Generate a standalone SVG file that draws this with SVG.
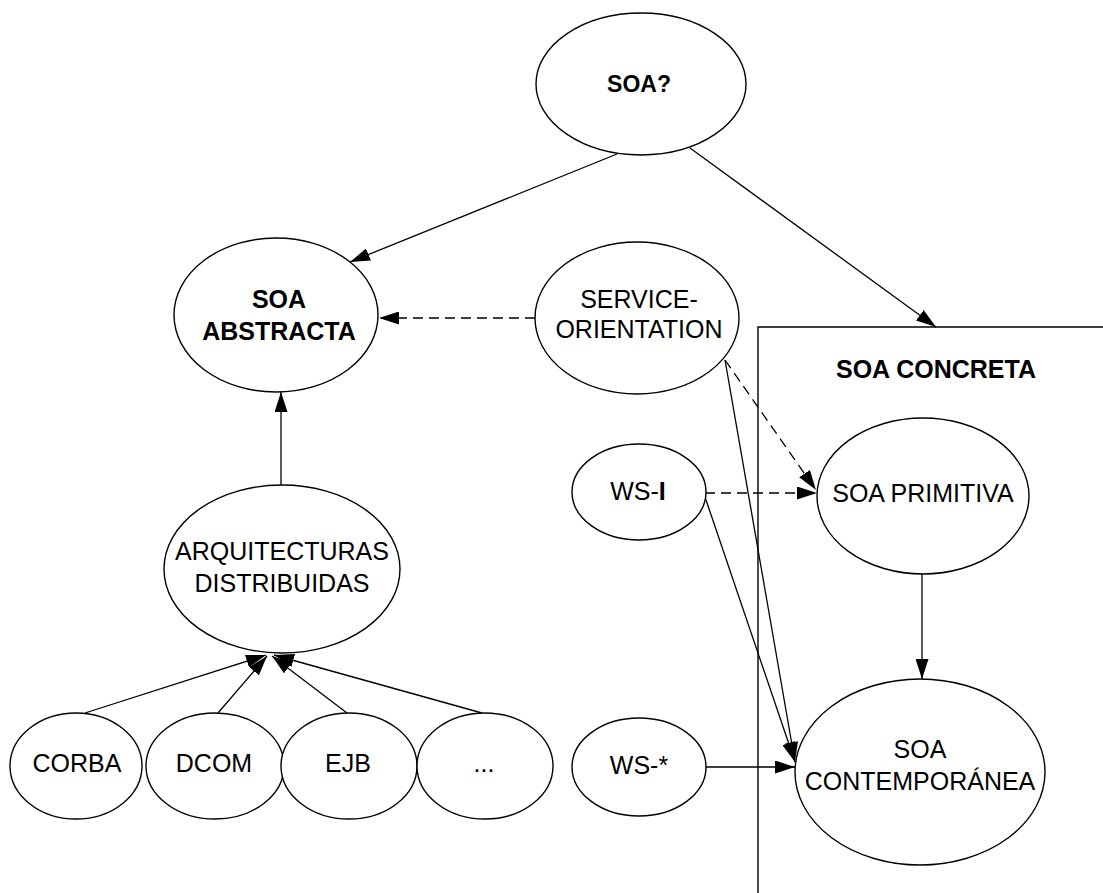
<svg xmlns="http://www.w3.org/2000/svg" width="1103" height="893" viewBox="0 0 1103 893">
  <style>
    .node ellipse { fill: #fff; stroke: #000; stroke-width: 1.4; }
    .lbl { font-family: "Liberation Sans", Arial, sans-serif; font-size: 25px; fill: #000; text-anchor: middle; }
    .b { font-weight: bold; }
    .edge { stroke: #000; stroke-width: 1.3; fill: none; marker-end: url(#arrow); }
    .dash { stroke-dasharray: 10 6; }
    .frame { stroke: #000; stroke-width: 1.4; fill: none; }
  </style>
  <defs>
    <marker id="arrow" viewBox="0 0 20 13" refX="20" refY="6.5" markerWidth="20" markerHeight="13" markerUnits="userSpaceOnUse" orient="auto">
      <path d="M0,0 L20,6.5 L0,13 Z" fill="#000"/>
    </marker>
  </defs>
  <rect width="1103" height="893" fill="#fff"/>

  <!-- SOA CONCRETA container (open to the right and bottom) -->
  <g id="soa-concreta">
    <path class="frame" d="M758,893 L758,327 L1103,327"/>
    <text class="lbl b" x="936" y="378">SOA CONCRETA</text>
  </g>

  <!-- connectors -->
  <g id="connectors">
    <line class="edge" x1="617" y1="154" x2="350" y2="262"/>
    <line class="edge" x1="690" y1="148" x2="936" y2="327"/>
    <line class="edge dash" x1="535" y1="318" x2="379" y2="318"/>
    <line class="edge" x1="281" y1="486" x2="281" y2="392"/>
    <line class="edge dash" x1="725" y1="360" x2="816" y2="490"/>
    <line class="edge dash" x1="705" y1="493" x2="817" y2="493"/>
    <line class="edge" x1="725" y1="360" x2="795" y2="762"/>
    <line class="edge" x1="705" y1="497" x2="795" y2="762"/>
    <line class="edge" x1="705" y1="767" x2="795" y2="767"/>
    <line class="edge" x1="922" y1="574" x2="922" y2="679"/>
    <line class="edge" x1="85" y1="713" x2="266" y2="655"/>
    <line class="edge" x1="218" y1="713" x2="267" y2="656"/>
    <line class="edge" x1="347" y1="713" x2="272" y2="656"/>
    <line class="edge" x1="482" y1="713" x2="274" y2="655"/>
  </g>

  <g id="soa" class="node">
    <ellipse cx="641" cy="84" rx="105" ry="71"/>
    <text class="lbl b" x="639" y="92" style="font-size:23px">SOA?</text>
  </g>

  <g id="soa-abstracta" class="node">
    <ellipse cx="276" cy="315" rx="102" ry="77"/>
    <text class="lbl b" x="279" y="308">SOA</text>
    <text class="lbl b" x="279" y="340">ABSTRACTA</text>
  </g>

  <g id="service-orientation" class="node">
    <ellipse cx="637" cy="318" rx="102" ry="76"/>
    <text class="lbl" x="639" y="308">SERVICE-</text>
    <text class="lbl" x="639" y="338">ORIENTATION</text>
  </g>

  <g id="arquitecturas" class="node">
    <ellipse cx="282" cy="569" rx="118" ry="84"/>
    <text class="lbl" x="282" y="560">ARQUITECTURAS</text>
    <text class="lbl" x="282" y="592">DISTRIBUIDAS</text>
  </g>

  <g id="corba" class="node">
    <ellipse cx="76" cy="766" rx="66" ry="53"/>
    <text class="lbl" x="77" y="772">CORBA</text>
  </g>

  <g id="dcom" class="node">
    <ellipse cx="215" cy="766" rx="69" ry="53"/>
    <text class="lbl" x="214" y="772">DCOM</text>
  </g>

  <g id="ejb" class="node">
    <ellipse cx="349" cy="766" rx="68" ry="53"/>
    <text class="lbl" x="348" y="772">EJB</text>
  </g>

  <g id="etc" class="node">
    <ellipse cx="485" cy="766" rx="68" ry="53"/>
    <text class="lbl" x="484" y="772">...</text>
  </g>

  <g id="ws-i" class="node">
    <ellipse cx="639" cy="492" rx="67" ry="48"/>
    <text class="lbl" x="638" y="500">WS-<tspan class="b">I</tspan></text>
  </g>

  <g id="ws-star" class="node">
    <ellipse cx="639" cy="767" rx="67" ry="49"/>
    <text class="lbl" x="639" y="774">WS-*</text>
  </g>

  <g id="soa-primitiva" class="node">
    <ellipse cx="923" cy="496" rx="106" ry="78"/>
    <text class="lbl" x="923" y="502">SOA PRIMITIVA</text>
  </g>

  <g id="soa-contemporanea" class="node">
    <ellipse cx="920" cy="772" rx="125" ry="93"/>
    <text class="lbl" x="920" y="758">SOA</text>
    <text class="lbl" x="920" y="790">CONTEMPORÁNEA</text>
  </g>
</svg>
